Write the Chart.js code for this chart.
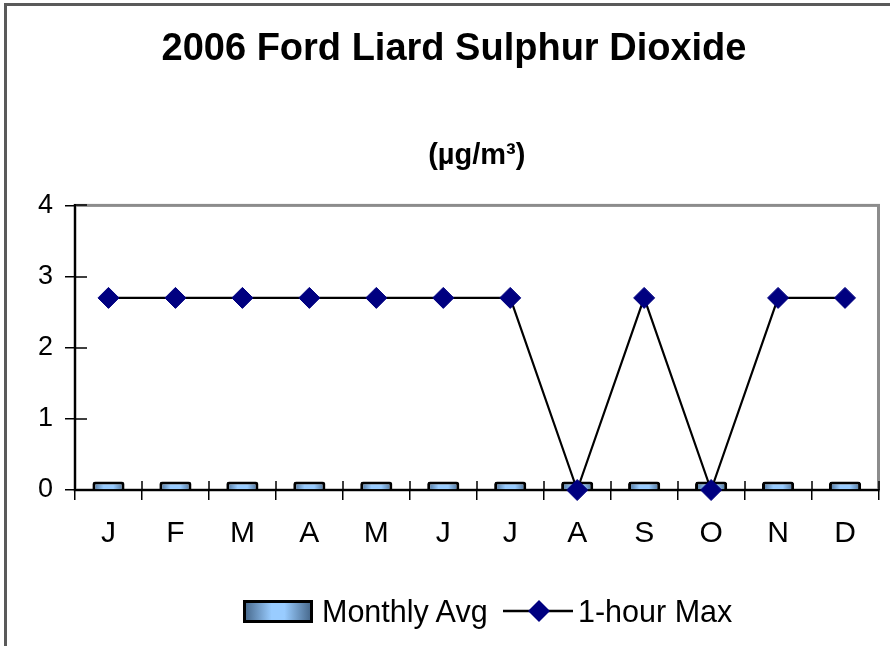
<!DOCTYPE html>
<html><head><meta charset="utf-8">
<script src="https://cdn.jsdelivr.net/npm/chart.js@4/dist/chart.umd.min.js"></script>
<style>
html,body{margin:0;padding:0;background:#fff;width:890px;height:646px;overflow:hidden;}
#frame{position:absolute;left:4px;top:3px;width:1000px;height:1000px;border-left:3px solid #5a5a5a;border-top:3px solid #5a5a5a;box-sizing:border-box;}
#c{position:absolute;left:0;top:0;}
#legend{position:absolute;left:0;top:594px;width:890px;height:34px;font-family:'Liberation Sans',Arial,sans-serif;font-size:30.5px;color:#000;}
#legend .it{position:absolute;top:0;height:34px;line-height:34px;white-space:nowrap;}
</style></head><body>
<div id="frame"></div>
<canvas id="c" width="890" height="646"></canvas>
<div id="legend"></div>
<script>
const months = ['J','F','M','A','M','J','J','A','S','O','N','D'];
const monthlyAvg = [0.12,0.12,0.12,0.12,0.12,0.12,0.12,0.12,0.12,0.12,0.12,0.12];
const hourMax = [2.7,2.7,2.7,2.7,2.7,2.7,2.7,0,2.7,0,2.7,2.7];
const seriesNames = ['Monthly Avg','1-hour Max'];
const titleText = '2006 Ford Liard Sulphur Dioxide';
const unitText = '(µg/m³)';
const yMin = 0, yMax = 4, yStep = 1;

const FONT = "'Liberation Sans', Arial, sans-serif";
const BAR_FRAC = 0.48;

function barFill(ctx){
  const chart = ctx.chart;
  const xs = chart.scales && chart.scales.x;
  if (!xs || ctx.dataIndex === undefined || !chart.chartArea) return '#99ccff';
  const cx = xs.getPixelForValue(ctx.dataIndex);
  const hw = xs.width / months.length * BAR_FRAC / 2;
  const g = chart.ctx.createLinearGradient(cx - hw, 0, cx + hw, 0);
  g.addColorStop(0, '#4a6c90');
  g.addColorStop(0.35, '#99ccff');
  g.addColorStop(0.65, '#99ccff');
  g.addColorStop(1, '#4a6c90');
  return g;
}

const plotFrame = {
  id: 'plotFrame',
  beforeDraw(chart){
    const {ctx, chartArea: a} = chart;
    ctx.save();
    ctx.strokeStyle = '#8c8c8c';
    ctx.lineWidth = 3;
    ctx.strokeRect(a.left, a.top, a.right - a.left, a.bottom - a.top);
    ctx.restore();
  },
  beforeDatasetsDraw(chart){
    const {ctx, chartArea: a, scales} = chart;
    ctx.save();
    ctx.strokeStyle = '#000';
    ctx.lineWidth = 1.5;
    ctx.beginPath();
    scales.y.ticks.forEach(t => {
      const py = Math.round(scales.y.getPixelForValue(t.value));
      ctx.moveTo(a.left, py); ctx.lineTo(a.left + 12, py);
    });
    for (let i = 0; i <= months.length; i++){
      const px = Math.round(scales.x.getPixelForValue(i - 0.5));
      ctx.moveTo(px, a.bottom); ctx.lineTo(px, a.bottom - 9);
    }
    ctx.stroke();
    ctx.restore();
  }
};

const chart = new Chart(document.getElementById('c'), {
  data: {
    labels: months,
    datasets: [
      {
        type: 'bar', label: seriesNames[0], data: monthlyAvg, order: 1,
        backgroundColor: barFill, borderColor: '#000', borderWidth: 3,
        borderRadius: 3, borderSkipped: 'start',
        categoryPercentage: 1, barPercentage: BAR_FRAC
      },
      {
        type: 'line', label: seriesNames[1], data: hourMax, order: 0,
        borderColor: '#000', borderWidth: 2.2, tension: 0, fill: false, clip: false,
        pointStyle: 'rectRot', pointRadius: 10.5, pointBackgroundColor: '#000080',
        pointBorderColor: '#000080', pointBorderWidth: 1
      }
    ]
  },
  options: {
    responsive: false, animation: false, events: [], devicePixelRatio: 1,
    layout: { padding: { left: 29, right: 11, top: 0, bottom: 0 } },
    plugins: {
      legend: { display: false },
      tooltip: { enabled: false },
      title: {
        display: true, text: titleText, color: '#000',
        font: { family: FONT, size: 38, weight: 'bold' },
        padding: { top: 27, bottom: 0 }
      },
      subtitle: {
        display: true, text: unitText, color: '#000', fullSize: false,
        font: { family: FONT, size: 29, weight: 'bold' },
        padding: { top: 66, bottom: 32 }
      }
    },
    scales: {
      x: {
        type: 'category', offset: true,
        grid: { offset: true, drawOnChartArea: false, drawTicks: true, tickLength: 10, color: '#000', lineWidth: 1.5 },
        border: { display: true, color: '#000', width: 2 },
        ticks: { color: '#000', font: { family: FONT, size: 30 }, padding: 16, maxRotation: 0, autoSkip: false },
        afterFit(s){ s.height = 156; }
      },
      y: {
        min: yMin, max: yMax,
        grid: { drawOnChartArea: false, drawTicks: true, tickLength: 10, color: '#000', lineWidth: 1.5 },
        border: { display: true, color: '#000', width: 2 },
        ticks: { stepSize: yStep, color: '#000', font: { family: FONT, size: 27 }, padding: 12 },
        afterFit(s){ s.width = 46; }
      }
    }
  },
  plugins: [plotFrame]
});

// HTML legend built from the dataset labels
(function(){
  const lg = document.getElementById('legend');
  const ds = chart.data.datasets;
  const sw1 = document.createElement('div');
  sw1.className = 'it';
  sw1.style.cssText = 'left:243px;top:6px;width:64px;height:17px;line-height:normal;border:3px solid #000;background:linear-gradient(to right,#4a6c90,#99ccff 40%,#99ccff 60%,#4a6c90);';
  lg.appendChild(sw1);
  const t1 = document.createElement('div');
  t1.className = 'it'; t1.style.left = '322px'; t1.textContent = ds[0].label;
  lg.appendChild(t1);
  const sw2 = document.createElementNS('http://www.w3.org/2000/svg','svg');
  sw2.setAttribute('width','70'); sw2.setAttribute('height','24');
  sw2.setAttribute('class','it');
  sw2.style.cssText = 'position:absolute;left:503px;top:5px;height:24px;';
  sw2.innerHTML = '<line x1="0" y1="12" x2="70" y2="12" stroke="#000" stroke-width="2.5"/>' +
    '<polygon points="36,1 47,12 36,23 25,12" fill="#000080"/>';
  lg.appendChild(sw2);
  const t2 = document.createElement('div');
  t2.className = 'it'; t2.style.left = '578px'; t2.textContent = ds[1].label;
  lg.appendChild(t2);
})();
</script>
</body></html>
